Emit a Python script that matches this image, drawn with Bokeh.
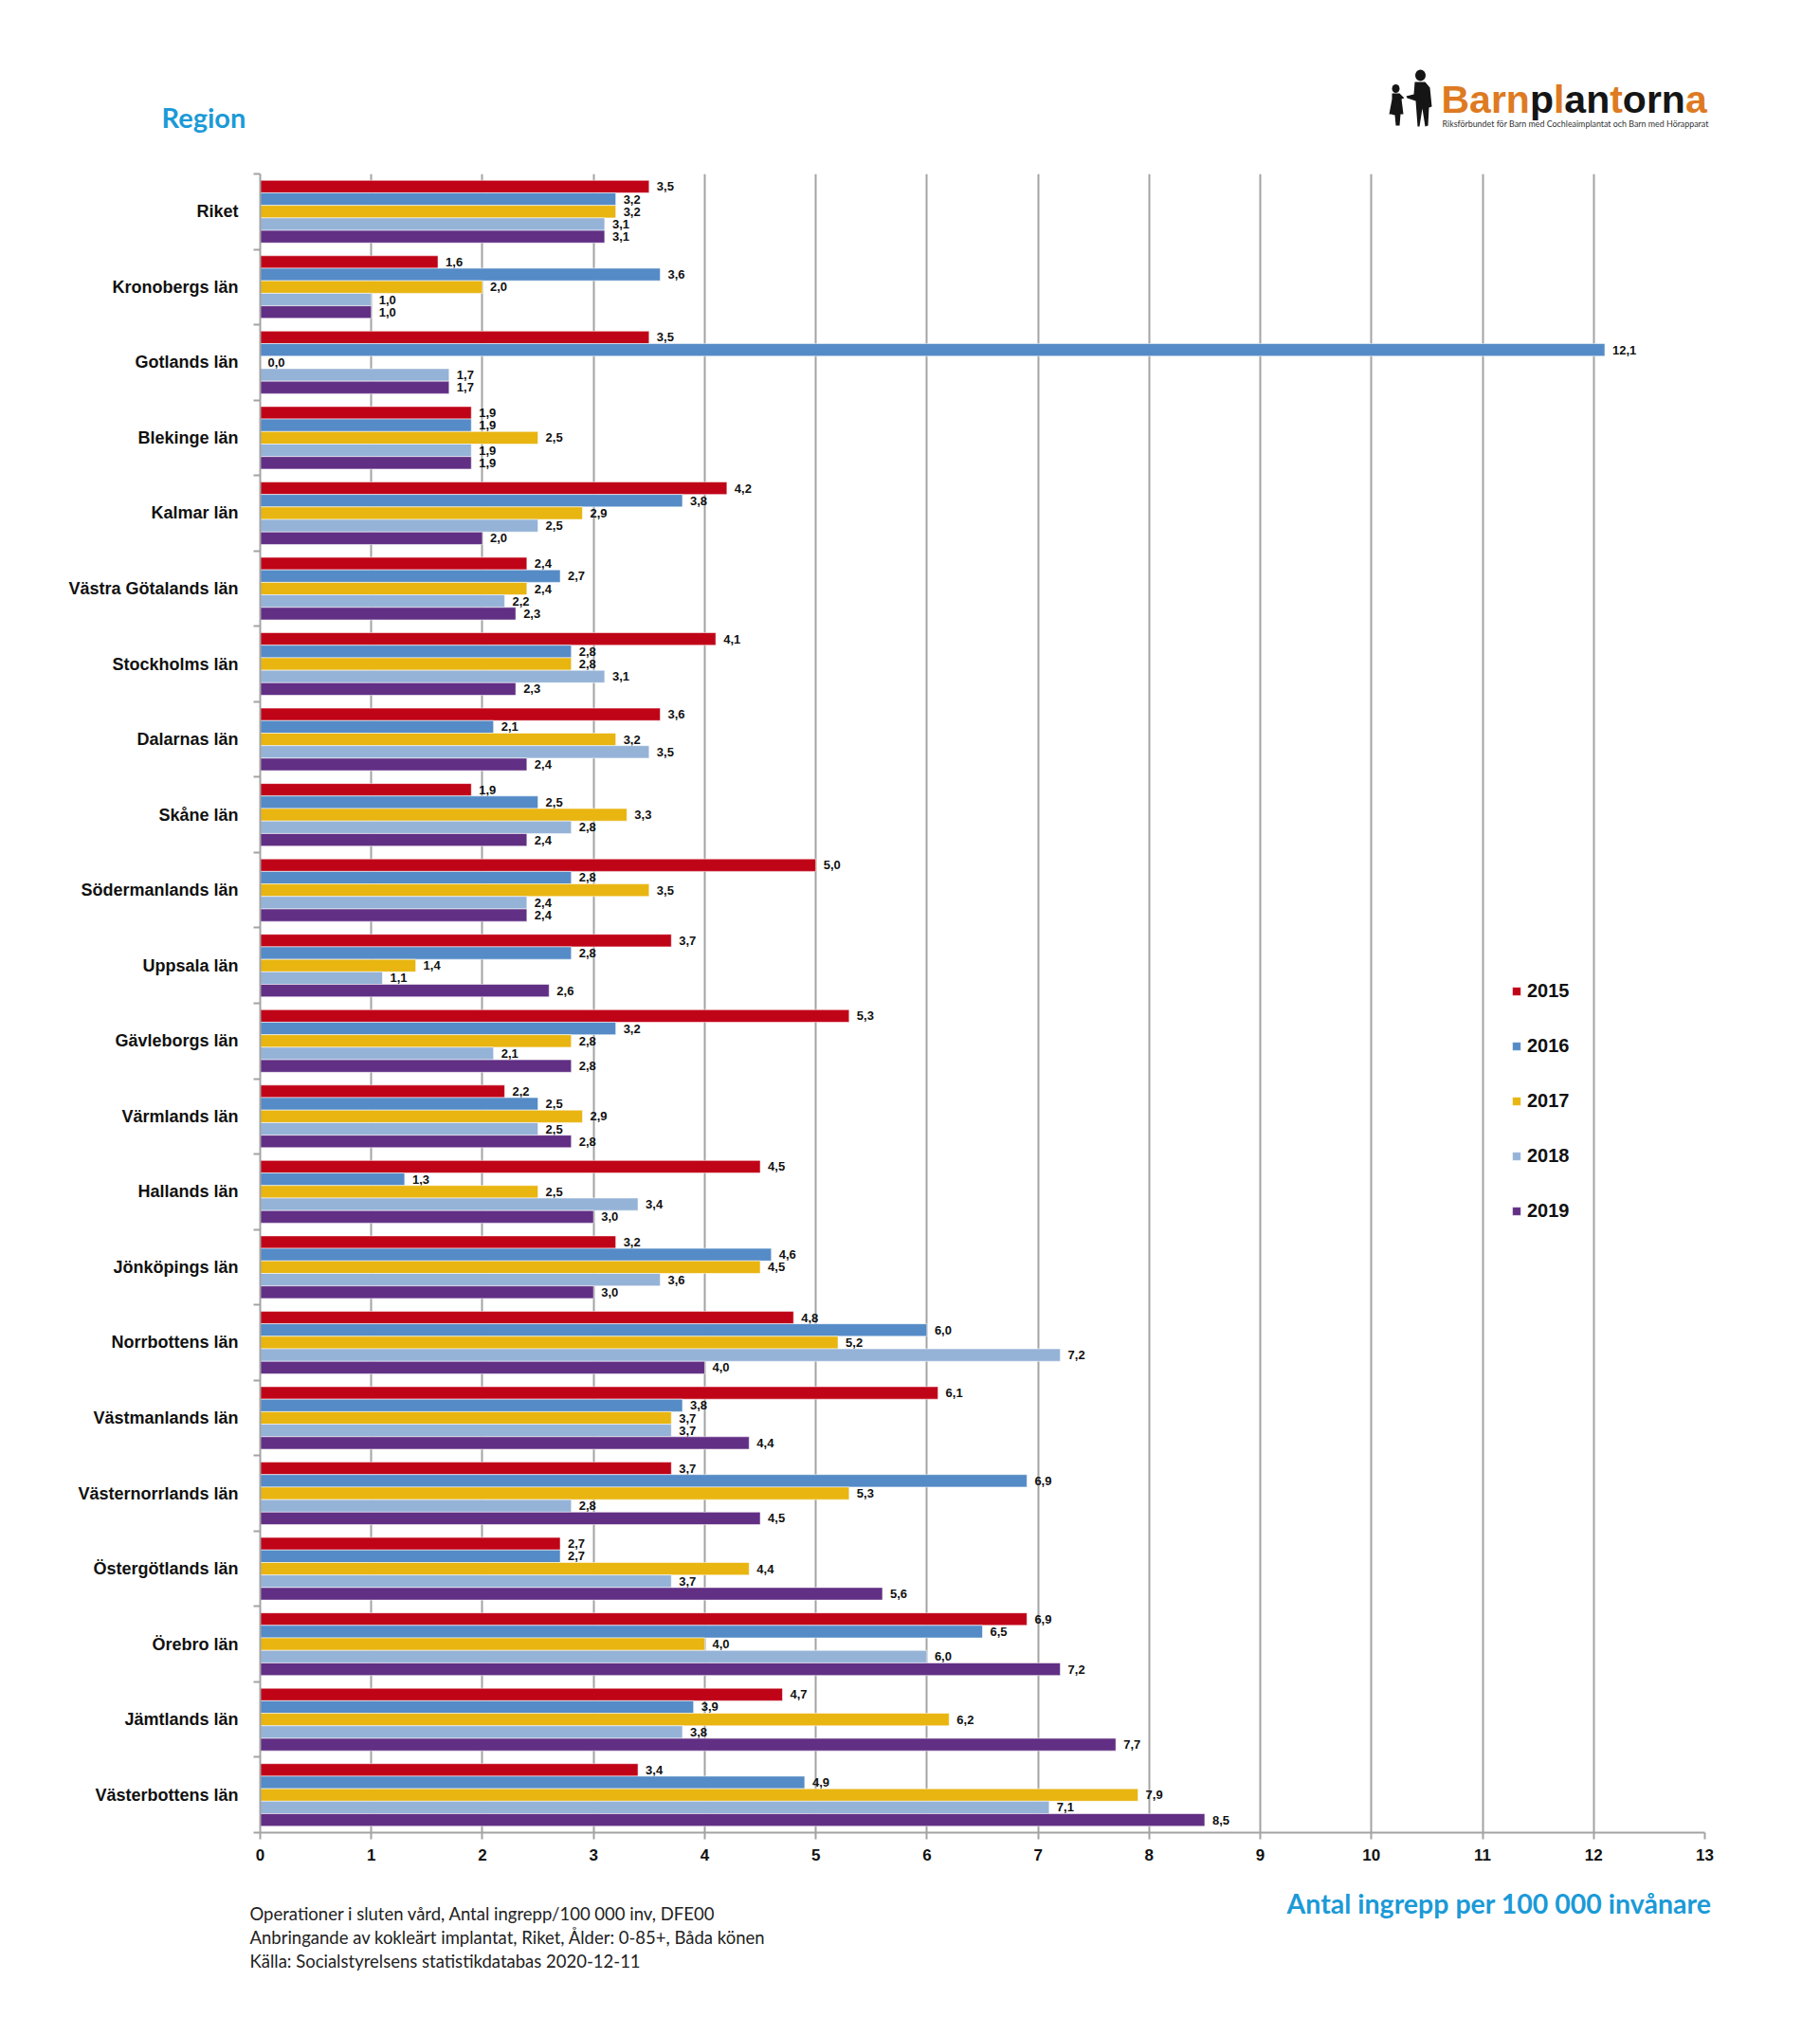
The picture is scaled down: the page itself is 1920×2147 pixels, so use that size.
from bokeh.plotting import figure
from bokeh.layouts import column
from bokeh.models import (ColumnDataSource, Range1d, FixedTicker, Legend, LegendItem)
from bokeh.embed import file_html
from bokeh.resources import INLINE
from bokeh.core.properties import value

# ---------------- data ----------------
regions = ["Riket", "Kronobergs län", "Gotlands län", "Blekinge län", "Kalmar län",
           "Västra Götalands län", "Stockholms län", "Dalarnas län", "Skåne län",
           "Södermanlands län", "Uppsala län", "Gävleborgs län", "Värmlands län",
           "Hallands län", "Jönköpings län", "Norrbottens län", "Västmanlands län",
           "Västernorrlands län", "Östergötlands län", "Örebro län", "Jämtlands län",
           "Västerbottens län"]
years = ["2015", "2016", "2017", "2018", "2019"]
v2015 = [3.5, 1.6, 3.5, 1.9, 4.2, 2.4, 4.1, 3.6, 1.9, 5.0, 3.7, 5.3, 2.2, 4.5, 3.2, 4.8, 6.1, 3.7, 2.7, 6.9, 4.7, 3.4]
v2016 = [3.2, 3.6, 12.1, 1.9, 3.8, 2.7, 2.8, 2.1, 2.5, 2.8, 2.8, 3.2, 2.5, 1.3, 4.6, 6.0, 3.8, 6.9, 2.7, 6.5, 3.9, 4.9]
v2017 = [3.2, 2.0, 0.0, 2.5, 2.9, 2.4, 2.8, 3.2, 3.3, 3.5, 1.4, 2.8, 2.9, 2.5, 4.5, 5.2, 3.7, 5.3, 4.4, 4.0, 6.2, 7.9]
v2018 = [3.1, 1.0, 1.7, 1.9, 2.5, 2.2, 3.1, 3.5, 2.8, 2.4, 1.1, 2.1, 2.5, 3.4, 3.6, 7.2, 3.7, 2.8, 3.7, 6.0, 3.8, 7.1]
v2019 = [3.1, 1.0, 1.7, 1.9, 2.0, 2.3, 2.3, 2.4, 2.4, 2.4, 2.6, 2.8, 2.8, 3.0, 3.0, 4.0, 4.4, 4.5, 5.6, 7.2, 7.7, 8.5]
x_ticks = list(range(0, 14))
series = [v2015, v2016, v2017, v2018, v2019]
colors = ["#c00418", "#558bc6", "#e8b511", "#95b3d7", "#612f84"]

title_left = "Region"
title_bottom = "Antal ingrepp per 100 000 invånare"
footer = ["Operationer i sluten vård, Antal ingrepp/100 000 inv, DFE00",
          "Anbringande av kokleärt implantat, Riket, Ålder: 0-85+, Båda könen",
          "Källa: Socialstyrelsens statistikdatabas 2020-12-11"]
logo_parts = ["Barn", "p", "l", "an", "t", "orn", "a"]
logo_sub = "Riksförbundet för Barn med Cochleaimplantat och Barn med Hörapparat"

# ---------------- geometry (page px) ----------------
W = 1910
FL, FT, FR, FB = 274, 183, 1798, 1933
HEAD_H = 170
FOOT_H = 120
MAIN_BOTTOM = 50
N = len(regions)
XMAX = 13
BLUE = "#1b9ad7"
ORANGE = "#de7a22"
INK = "#151515"
GRAY = "#a3a3a3"
TITLE_FONT = "Lato"


def blank(h, top):
    f = figure(output_backend="svg", toolbar_location=None, width=W, height=h,
               x_range=Range1d(0, W), y_range=Range1d(top + h, top),
               x_axis_type=None, y_axis_type=None, min_border=0,
               frame_align=False,
               background_fill_color="white", border_fill_color="white")
    f.outline_line_color = None
    f.grid.visible = False
    return f


# ---------------- header ----------------
head = blank(HEAD_H, 0)
head.text(x=[170], y=[123], text=[title_left], text_color=BLUE,
          text_font=value(TITLE_FONT), text_font_style="bold",
          text_font_size="29px", text_baseline="alphabetic")

logo_colors = [ORANGE, INK, ORANGE, INK, ORANGE, INK, ORANGE]
adv = {"B": 722, "a": 556, "r": 389, "n": 611, "p": 611, "l": 278, "t": 333, "o": 611}
LOGO_SIZE = 41
lx = [1520]
for part in logo_parts[:-1]:
    lx.append(lx[-1] + sum(adv[ch] for ch in part) * LOGO_SIZE / 1000)
head.text(x=lx, y=[104] * len(lx), text=logo_parts, text_color=logo_colors,
          text_font=value("Liberation Sans"), text_font_style="bold",
          text_font_size=f"{LOGO_SIZE}px", text_baseline="alphabetic")
head.text(x=[1521], y=[130], text=[logo_sub], text_color="#333333",
          text_font=value(TITLE_FONT), text_font_size="8.9px",
          text_baseline="alphabetic")
# logo silhouettes (decoration)
head.ellipse(x=[1472, 1498], y=[93, 79], width=[8, 11], height=[9, 12], fill_color=INK, line_color=None)
head.patch(x=[1468, 1476, 1481, 1484, 1478, 1480, 1477, 1476, 1472, 1471, 1467, 1465, 1468],
           y=[98, 98, 103, 102, 104, 120, 120, 132, 132, 121, 120, 120, 104],
           fill_color=INK, line_color=None)
head.patch(x=[1492, 1503, 1508, 1510, 1507, 1506, 1503, 1500, 1497, 1495, 1493, 1484, 1483, 1491],
           y=[86, 86, 92, 112, 113, 132, 133, 114, 133, 133, 106, 103, 101, 99],
           fill_color=INK, line_color=None)

# ---------------- main chart ----------------
p = figure(output_backend="svg", toolbar_location=None,
           frame_width=FR - FL, frame_height=FB - FT,
           min_border_left=FL, min_border_top=FT - HEAD_H,
           min_border_right=W - FR, min_border_bottom=MAIN_BOTTOM,
           frame_align=False,
           x_range=Range1d(0, XMAX), y_range=Range1d(0, N),
           background_fill_color="white", border_fill_color="white")
p.outline_line_color = None

centers = [N - i - 0.5 for i in range(N)]

p.xaxis.ticker = FixedTicker(ticks=x_ticks)
p.xaxis.axis_line_color = GRAY
p.xaxis.axis_line_width = 2
p.xaxis.major_tick_line_color = GRAY
p.xaxis.major_tick_line_width = 2
p.xaxis.major_tick_out = 7
p.xaxis.major_tick_in = 0
p.xaxis.minor_tick_line_color = None
p.xaxis.major_label_standoff = 10
p.xaxis.major_label_text_font = "Liberation Sans"
p.xaxis.major_label_text_font_style = "bold"
p.xaxis.major_label_text_font_size = "17px"
p.xaxis.major_label_text_color = "#111111"

p.yaxis.ticker = FixedTicker(ticks=centers, minor_ticks=list(range(0, N + 1)))
p.yaxis.major_label_overrides = {c: r for c, r in zip(centers, regions)}
p.yaxis.axis_line_color = GRAY
p.yaxis.axis_line_width = 2
p.yaxis.major_tick_line_color = None
p.yaxis.major_tick_out = 0
p.yaxis.minor_tick_line_color = GRAY
p.yaxis.minor_tick_line_width = 2
p.yaxis.minor_tick_out = 7
p.yaxis.minor_tick_in = 0
p.yaxis.major_label_standoff = 16
p.yaxis.major_label_text_font = "Liberation Sans"
p.yaxis.major_label_text_font_style = "bold"
p.yaxis.major_label_text_font_size = "18px"
p.yaxis.major_label_text_color = "#111111"

p.xgrid.ticker = FixedTicker(ticks=x_ticks)
p.xgrid.grid_line_color = GRAY
p.xgrid.grid_line_width = 2
p.ygrid.grid_line_color = None

BAR_H = 0.166
items = []
for k, (yr, vals, col) in enumerate(zip(years, series, colors)):
    off = 0.332 - k * BAR_H
    src = ColumnDataSource(dict(
        y=[c + off for c in centers],
        v=vals,
        lab=[f"{v:.1f}".replace(".", ",") for v in vals],
    ))
    r = p.hbar(y="y", right="v", left=0, height=BAR_H, source=src,
               fill_color=col, line_color="white", line_alpha=0.55, line_width=1)
    p.text(x="v", y="y", text="lab", source=src, x_offset=8,
           text_font=value("Liberation Sans"), text_font_style="bold",
           text_font_size="13px", text_color="#111111",
           text_baseline="middle", text_align="left")
    items.append(LegendItem(label=yr, renderers=[r]))

legend = Legend(items=items, location=(1320, 644), orientation="vertical",
                glyph_width=11, glyph_height=11, label_height=20,
                spacing=35, label_standoff=6, padding=0, margin=0,
                border_line_color=None, background_fill_alpha=0,
                label_text_font="Liberation Sans", label_text_font_style="bold",
                label_text_font_size="20px", label_text_color="#111111")
p.add_layout(legend, "center")

# ---------------- footer ----------------
FOOT_TOP = FB + MAIN_BOTTOM
foot = blank(FOOT_H, FOOT_TOP)
foot.text(x=[1805], y=[2007], text=[title_bottom], text_color=BLUE,
          text_font=value(TITLE_FONT), text_font_style="bold",
          text_font_size="28.5px", text_baseline="alphabetic", text_align="right")
foot.text(x=[263] * len(footer), y=[2018 + 25 * i for i in range(len(footer))], text=footer,
          text_color="#222222", text_font=value(TITLE_FONT), text_font_size="18.5px",
          text_baseline="alphabetic")

layout = column(head, p, foot, spacing=0)
open("out.html", "w").write(file_html(layout, INLINE))
